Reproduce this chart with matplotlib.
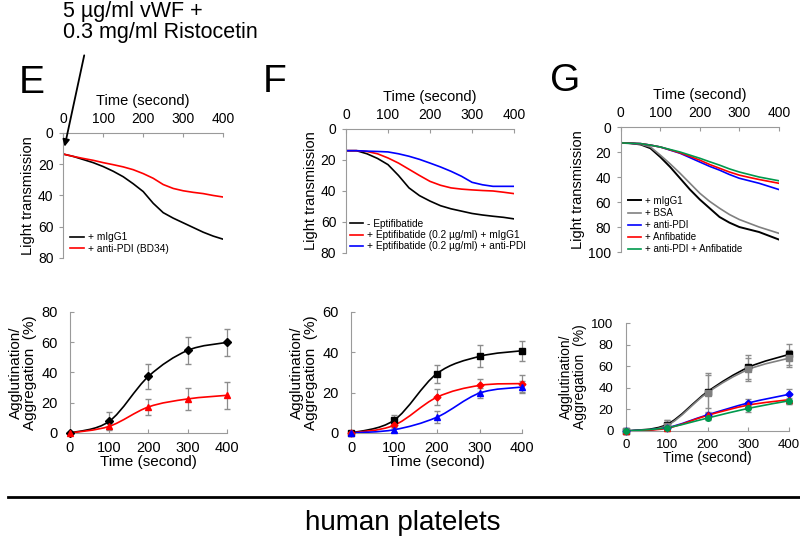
import numpy as np
import matplotlib
matplotlib.use('Agg')
import matplotlib.pyplot as plt
from matplotlib.path import Path
from matplotlib.patches import PathPatch

plt.rcParams['font.family'] = ['Liberation Sans', 'DejaVu Sans']

# ---- light transmission traces (read every 25 s) ----
trace_t = [0, 25, 50, 75, 100, 125, 150, 175, 200, 225, 250, 275, 300, 325, 350, 375, 400]

e_migg1 = [13.5, 15, 17, 19, 21.5, 24.5, 28, 32.5, 37.5, 45, 51, 54.5, 57.5, 60.5, 63.5, 66, 68]
e_antipdi = [13.5, 15, 16.3, 17.5, 19, 20.3, 21.7, 23.5, 26, 29, 33, 35.5, 37, 38, 38.8, 40, 41]

f_no_eptif = [14, 14, 16, 19, 23, 30, 38, 43, 46.5, 49.5, 51.5, 53, 54.5, 55.5, 56.3, 57, 58]
f_eptif_migg1 = [14, 14, 14.5, 16, 18.7, 22, 26, 30, 33.8, 36.3, 38, 38.8, 39.3, 39.7, 40, 40.8, 41.7]
f_eptif_antipdi = [14, 14, 14.3, 14.5, 14.8, 16, 17.6, 19.6, 22, 24.5, 27.3, 30.5, 34.4, 36, 37, 37, 37]

g_migg1 = [12.7, 13, 14, 17, 24, 32, 41, 50, 58, 65, 72, 76.5, 80, 82, 84, 87, 90]
g_bsa = [12.7, 13, 13.8, 16, 22.5, 29.5, 37, 45, 53, 59.5, 65, 70, 74, 77, 80, 82.5, 85]
g_antipdi = [12.7, 13, 13.3, 14.5, 16, 18.5, 21, 24.5, 28, 31.5, 34.5, 38, 41, 43, 45, 47.5, 50]
g_anfib = [12.7, 13, 13.3, 14.5, 16, 18.3, 20.7, 23.5, 26.5, 30, 33, 36, 38.5, 40.3, 42, 43.5, 45]
g_both = [12.7, 13, 13.3, 14.5, 16, 18, 20, 22.5, 25, 27.8, 30.5, 33.5, 36, 38, 40, 41.5, 43]

# ---- agglutination / aggregation (%) ----
agg_t = [0, 100, 200, 300, 400]

e_agg_migg1 = [0, 7.7, 37.4, 54.6, 59.9]
e_err_migg1 = [0, 6, 8.3, 9, 9]
e_agg_antipdi = [0, 4.4, 17.2, 22.5, 24.9]
e_err_antipdi = [0, 2, 5.3, 7.2, 8.8]

f_agg_no = [0, 6.3, 29.4, 38, 40.8]
f_err_no = [0, 2.5, 4.5, 5.4, 5]
f_agg_migg1 = [0, 3.8, 17.7, 23.6, 24.5]
f_err_migg1 = [0, 1, 4, 3.3, 4.1]
f_agg_antipdi = [0, 1.6, 7.8, 19.8, 22.8]
f_err_antipdi = [0, 1, 3, 2.6, 2.9]

g_agg_migg1 = [0, 6, 36.5, 59, 71]
g_err_migg1 = [0, 4, 15, 11, 10]
g_agg_bsa = [0, 5, 35.6, 57, 67.5]
g_err_bsa = [0, 5, 18, 11, 8]
g_agg_antipdi = [0, 3, 15, 26, 34]
g_err_antipdi = [0, 1, 2, 4, 5]
g_agg_anfib = [0, 2.5, 14.5, 24, 29]
g_err_anfib = [0, 1, 2, 3, 4]
g_agg_both = [0, 3, 12, 21, 28]
g_err_both = [0, 1, 2, 3, 3]

AX_GREY = '#9a9a9a'


def smooth_path(x, y):
    # excel-like smoothed line drawn as bezier segments
    x = np.asarray(x, float)
    y = np.asarray(y, float)
    verts = [(x[0], y[0])]
    codes = [Path.MOVETO]
    n = len(x)
    for i in range(n - 1):
        p0 = np.array([x[max(i - 1, 0)], y[max(i - 1, 0)]])
        p1 = np.array([x[i], y[i]])
        p2 = np.array([x[i + 1], y[i + 1]])
        p3 = np.array([x[min(i + 2, n - 1)], y[min(i + 2, n - 1)]])
        c1 = p1 + (p2 - p0) / 6
        c2 = p2 - (p3 - p1) / 6
        verts += [tuple(c1), tuple(c2), tuple(p2)]
        codes += [Path.CURVE4] * 3
    return Path(verts, codes)


def style_top(ax, ymax, yticks):
    ax.set_xlim(0, 400)
    ax.set_ylim(ymax, 0)
    ax.xaxis.tick_top()
    ax.xaxis.set_label_position('top')
    ax.set_xticks([0, 100, 200, 300, 400])
    ax.set_yticks(yticks)
    for s in ['right', 'bottom']:
        ax.spines[s].set_visible(False)
    for s in ['top', 'left']:
        ax.spines[s].set_color(AX_GREY)
    ax.tick_params(axis='x', direction='in', length=3, color=AX_GREY, labelsize=10, pad=5)
    ax.tick_params(axis='y', direction='out', length=3, color=AX_GREY, labelsize=10, pad=4)
    ax.set_xlabel('Time (second)', fontsize=10.5, labelpad=5)
    ax.set_ylabel('Light transmission', fontsize=10.5, labelpad=2)


def style_bottom(ax, ymax, yticks, fs=10):
    ax.set_xlim(0, 400)
    ax.set_ylim(0, ymax)
    ax.set_xticks([0, 100, 200, 300, 400])
    ax.set_yticks(yticks)
    for s in ['right', 'top']:
        ax.spines[s].set_visible(False)
    for s in ['bottom', 'left']:
        ax.spines[s].set_color(AX_GREY)
    ax.tick_params(axis='x', direction='in', length=3, color=AX_GREY, labelsize=fs, pad=6)
    ax.tick_params(axis='y', direction='in', length=3, color=AX_GREY, labelsize=fs, pad=9)
    ax.set_xlabel('Time (second)', fontsize=fs + 0.5, labelpad=0)
    ax.set_ylabel('Agglutination/\nAggregation  (%)', fontsize=fs + 0.5, labelpad=3, linespacing=1.0)


def agg_series(ax, y, err, color, marker, ms):
    ax.add_patch(PathPatch(smooth_path(agg_t, y), facecolor='none', edgecolor=color, lw=1.2, zorder=3))
    eb = ax.errorbar(agg_t, y, yerr=err, fmt='none', ecolor='#8c8c8c', elinewidth=0.9, capsize=2, zorder=2)
    for art in eb.get_children():
        art.set_clip_on(False)
    ax.plot(agg_t, y, linestyle='none', marker=marker, color=color, ms=ms, zorder=4, clip_on=False)


fig = plt.figure(figsize=(8, 5.37), dpi=100)

# ---------------- top row ----------------
axE = fig.add_axes([0.079, 0.5196, 0.2, 0.2328])
axE.plot(trace_t, e_migg1, color='black', lw=1.2, label='+ mIgG1')
axE.plot(trace_t, e_antipdi, color='red', lw=1.2, label='+ anti-PDI (BD34)')
style_top(axE, 80, [0, 20, 40, 60, 80])
axE.legend(loc='lower left', frameon=False, fontsize=7.3, handlelength=1.3, handletextpad=0.4,
           labelspacing=0.15, borderaxespad=0.0, bbox_to_anchor=(0.02, 0.0))

axF = fig.add_axes([0.4325, 0.5289, 0.21, 0.2309])
axF.plot(trace_t, f_no_eptif, color='black', lw=1.2, label='- Eptifibatide')
axF.plot(trace_t, f_eptif_migg1, color='red', lw=1.2, label='+ Eptifibatide (0.2 µg/ml) + mIgG1')
axF.plot(trace_t, f_eptif_antipdi, color='blue', lw=1.2, label='+ Eptifibatide (0.2 µg/ml) + anti-PDI')
style_top(axF, 80, [0, 20, 40, 60, 80])
axF.legend(loc='lower left', frameon=False, fontsize=7.3, handlelength=1.3, handletextpad=0.4,
           labelspacing=0.12, borderaxespad=0.0, bbox_to_anchor=(0.0, -0.02))

axG = fig.add_axes([0.776, 0.5307, 0.1975, 0.2328])
axG.plot(trace_t, g_migg1, color='black', lw=1.4, label='+ mIgG1')
axG.plot(trace_t, g_bsa, color='#808080', lw=1.2, label='+ BSA')
axG.plot(trace_t, g_antipdi, color='blue', lw=1.2, label='+ anti-PDI')
axG.plot(trace_t, g_anfib, color='red', lw=1.2, label='+ Anfibatide')
axG.plot(trace_t, g_both, color='#00994d', lw=1.2, label='+ anti-PDI + Anfibatide')
style_top(axG, 100, [0, 20, 40, 60, 80, 100])
axG.legend(loc='lower left', frameon=False, fontsize=7, handlelength=1.4, handletextpad=0.4,
           labelspacing=0.22, borderaxespad=0.0, bbox_to_anchor=(0.02, -0.05))

# ---------------- bottom row ----------------
bE = fig.add_axes([0.0875, 0.1937, 0.196, 0.2253])
agg_series(bE, e_agg_migg1, e_err_migg1, 'black', 'D', 4)
agg_series(bE, e_agg_antipdi, e_err_antipdi, 'red', '^', 5)
style_bottom(bE, 80, [0, 20, 40, 60, 80], fs=10.5)

bF = fig.add_axes([0.439, 0.1937, 0.214, 0.2253])
agg_series(bF, f_agg_no, f_err_no, 'black', 's', 5)
agg_series(bF, f_agg_migg1, f_err_migg1, 'red', 'D', 3.5)
agg_series(bF, f_agg_antipdi, f_err_antipdi, 'blue', '^', 5)
style_bottom(bF, 60, [0, 20, 40, 60], fs=10.5)

bG = fig.add_axes([0.7825, 0.1974, 0.204, 0.201])
agg_series(bG, g_agg_migg1, g_err_migg1, 'black', 's', 4.5)
agg_series(bG, g_agg_bsa, g_err_bsa, '#808080', 's', 4.5)
agg_series(bG, g_agg_antipdi, g_err_antipdi, 'blue', 'D', 3.5)
agg_series(bG, g_agg_anfib, g_err_anfib, 'red', '^', 4.5)
agg_series(bG, g_agg_both, g_err_both, '#00994d', 'o', 4)
style_bottom(bG, 100, [0, 20, 40, 60, 80, 100], fs=9.5)

# ---------------- labels / decorations ----------------
fig.text(0.024, 1 - 93 / 537, 'E', fontsize=28, va='baseline')
fig.text(0.329, 1 - 92 / 537, 'F', fontsize=28, va='baseline')
fig.text(0.688, 1 - 91 / 537, 'G', fontsize=28, va='baseline')

fig.text(0.079, 0.998, '5 µg/ml vWF +\n0.3 mg/ml Ristocetin', fontsize=15.5,
         va='top', ha='left', linespacing=1.0)
axE.annotate('', xy=(2, 10.5), xycoords='data', xytext=(0.106, 0.902),
             textcoords='figure fraction',
             arrowprops=dict(arrowstyle='-|>', color='black', lw=1.3, mutation_scale=10))

fig.add_artist(plt.Line2D([0.01, 1.0], [1 - 497 / 537, 1 - 497 / 537],
                          color='black', lw=2, transform=fig.transFigure))
fig.text(0.504, 1 - 530 / 537, 'human platelets', fontsize=20, ha='center', va='baseline')

fig.savefig('out.png', dpi=100)
